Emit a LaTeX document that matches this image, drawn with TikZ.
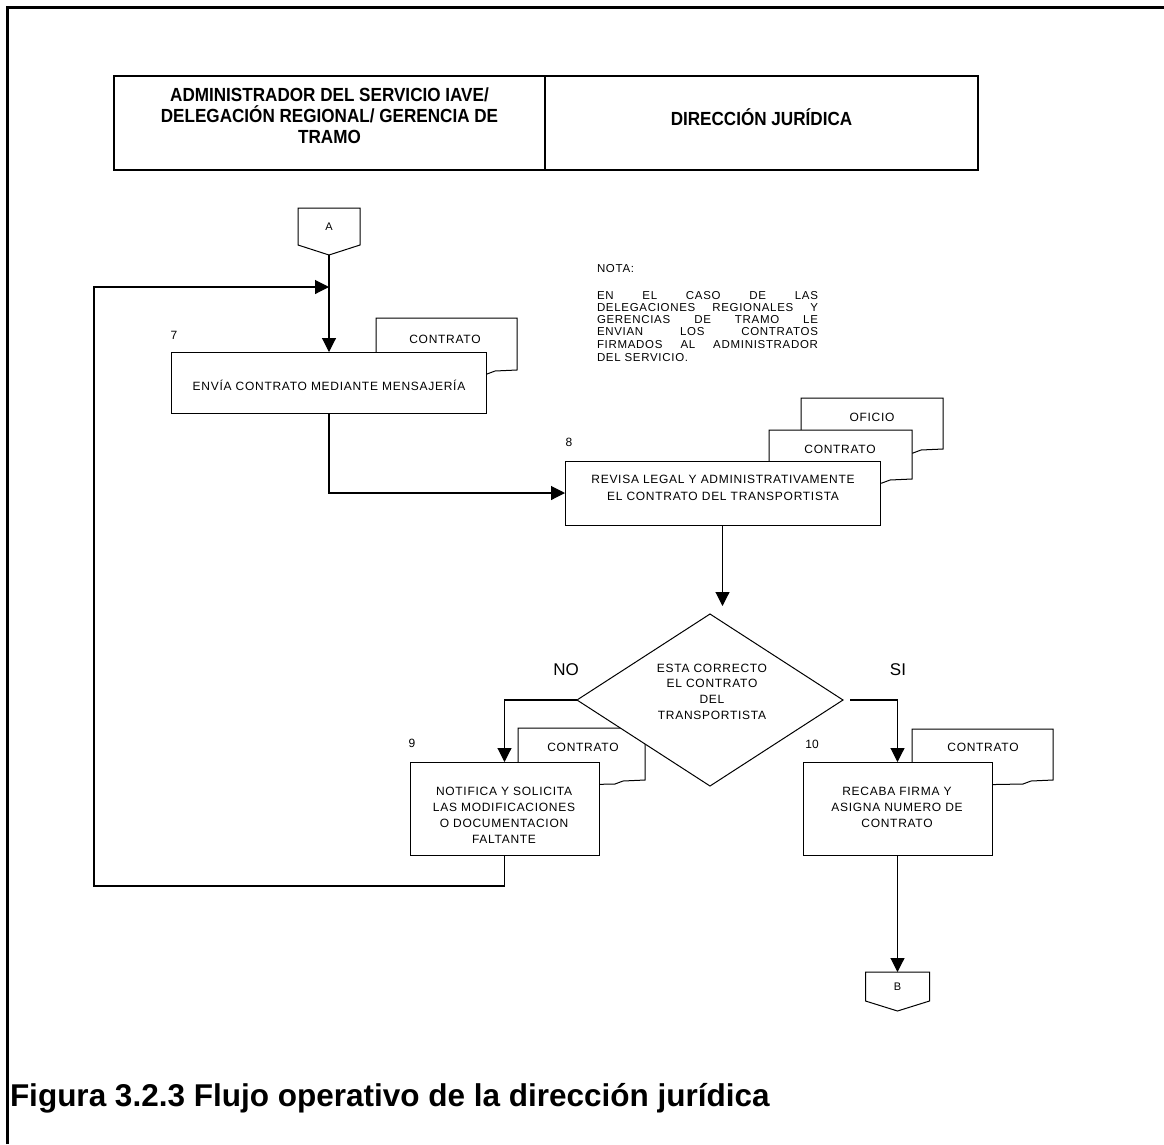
\documentclass[tikz,border=0pt]{standalone}
\usepackage{fontspec}
\setmainfont{Liberation Sans}
\newfontfamily\boxfont[LetterSpace=6]{Liberation Sans}
\newfontfamily\headfont[FakeStretch=0.9]{Liberation Sans}
\usetikzlibrary{arrows.meta,shapes.geometric}

\tikzset{
  every node/.style={inner sep=0pt, outer sep=0pt},
  proc/.style={draw, fill=white, line width=1pt, rectangle},
  paper/.style={draw, fill=white, line width=1pt},
  flow/.style={line width=1.1pt, -{Triangle[length=14pt,width=14pt]}},
  plain/.style={line width=1.1pt},
  txt/.style={font=\boxfont\fontsize{12}{16}\selectfont, align=center},
  num/.style={font=\fontsize{12}{14}\selectfont},
  head/.style={font=\headfont\bfseries\fontsize{19}{21}\selectfont, align=center},
}

% document symbol: top edge, two sides and a wavy bottom edge
\newcommand{\paperdoc}[4]{%
  \draw[paper] (#1,#4+6) -- (#1,#3) -- (#2,#3) -- (#2,#4)
    -- (#2-22,#4+1) -- (#2-30,#4+4) -- (#1,#4+6);
}

\begin{document}
\begin{tikzpicture}[x=1pt,y=-1pt]
\useasboundingbox (0,0) rectangle (1164,1144);

% page frame
\draw[line width=2.2pt] (7.5,1144) -- (7.5,7.5) -- (1164,7.5);

% swimlane header
\node[draw, line width=1.4pt, minimum width=431pt, minimum height=94pt] (laneL) at (329.5,123) {};
\node[draw, line width=1.4pt, minimum width=433pt, minimum height=94pt] (laneR) at (761.5,123) {};
\node[head] (laneLtxt) at (329.5,116) {ADMINISTRADOR DEL SERVICIO IAVE/\\DELEGACIÓN REGIONAL/ GERENCIA DE\\TRAMO};
\node[head] (laneRtxt) at (761.5,117) {DIRECCIÓN JURÍDICA};

% off-page connector A
\node[minimum width=62pt, minimum height=37pt, font=\fontsize{11}{13}\selectfont] (A) at (329,226.5) {A};
\draw[line width=1pt] (A.south west) -- (A.north west) -- (A.north east) -- (A.south east)
  -- ([yshift=-10pt]A.south) -- cycle;
\coordinate (Atip) at ([yshift=-10pt]A.south);

% note
\node[anchor=base west, font=\boxfont\fontsize{11.5}{14}\selectfont] (notahead) at (597,272) {NOTA:};
\node[anchor=north west, align=left, font=\boxfont\fontsize{11.5}{12.3}\selectfont] (notabody) at (597,291)
  {\makebox[221pt][s]{EN EL CASO DE LAS}\\
   \makebox[221pt][s]{DELEGACIONES REGIONALES Y}\\
   \makebox[221pt][s]{GERENCIAS DE TRAMO LE}\\
   \makebox[221pt][s]{ENVIAN LOS CONTRATOS}\\
   \makebox[221pt][s]{FIRMADOS AL ADMINISTRADOR}\\[1pt]
   DEL SERVICIO.};

% documents behind the activities
\paperdoc{376}{517}{318}{370}
\paperdoc{801}{943}{398}{449}
\paperdoc{769}{912}{430}{479}
\paperdoc{518}{645}{728}{780}
\paperdoc{912}{1053}{729}{780}

% activities
\node[proc, minimum width=315pt, minimum height=61pt] (p7) at (329,382.5) {};
\node[proc, minimum width=315pt, minimum height=64pt] (p8) at (722.5,493) {};
\node[proc, minimum width=189pt, minimum height=93pt] (p9) at (504.5,808.5) {};
\node[proc, minimum width=189pt, minimum height=93pt] (p10) at (897.5,808.5) {};

% decision
\node[draw, fill=white, line width=1pt, shape=diamond, minimum width=266pt, minimum height=172pt] (dia) at (710,700) {};

% document labels
\node[txt] (doc7) at (445,339) {CONTRATO};
\node[txt] (doc8b) at (872,417) {OFICIO};
\node[txt] (doc8a) at (840,449) {CONTRATO};
\node[txt] (doc9) at (583,747) {CONTRATO};
\node[txt] (doc10) at (983,747) {CONTRATO};

% activity texts
\node[txt] (t7) at (329,385) {ENVÍA CONTRATO MEDIANTE MENSAJERÍA};
\node[txt, font=\boxfont\fontsize{12}{17}\selectfont] (t8) at (723,487.5)
  {REVISA LEGAL Y ADMINISTRATIVAMENTE\\EL CONTRATO DEL TRANSPORTISTA};
\node[txt] (t9) at (504,815) {NOTIFICA Y SOLICITA\\LAS MODIFICACIONES\\O DOCUMENTACION\\FALTANTE};
\node[txt] (t10) at (897,807) {RECABA FIRMA Y\\ASIGNA NUMERO DE\\CONTRATO};
\node[txt, font=\boxfont\fontsize{12}{15.7}\selectfont] (tdia) at (712,691.5)
  {ESTA CORRECTO\\EL CONTRATO\\DEL\\TRANSPORTISTA};

% step numbers
\node[num] (n7) at (174,335) {7};
\node[num] (n8) at (569,442) {8};
\node[num] (n9) at (412,743) {9};
\node[num] (n10) at (812,744) {10};

% branch labels
\node[font=\fontsize{17}{19}\selectfont] (lblno) at (566,670) {NO};
\node[font=\fontsize{17}{19}\selectfont] (lblsi) at (898,670) {SI};

% off-page connector B
\node[minimum width=64pt, minimum height=29pt, font=\fontsize{11}{13}\selectfont] (B) at (897.5,986.5) {B};
\draw[line width=1pt] (B.south west) -- (B.north west) -- (B.north east) -- (B.south east)
  -- ([yshift=-10pt]B.south) -- cycle;

% connectors
\coordinate (join) at (329,287);
\coordinate (loopbl) at (94,886);
\coordinate (diatop) at (722.5,606);
\draw[plain] (Atip) -- (join);
\draw[flow] (join) -- (p7.north);
\draw[flow] (p7.south) |- (p8.west);
\draw[flow] (p8.south) -- (diatop);
\draw[flow] (dia.west) -| (p9.north);
\draw[flow] ([xshift=7pt]dia.east) -| (p10.north);
\draw[flow] (p10.south) -- (B.north);
\draw[flow] (p9.south) |- (loopbl) |- (join);

% caption
\node[anchor=base west, font=\bfseries\fontsize{31.5}{36}\selectfont] (caption) at (10,1106)
  {Figura 3.2.3 Flujo operativo de la dirección jurídica};
\end{tikzpicture}
\end{document}
